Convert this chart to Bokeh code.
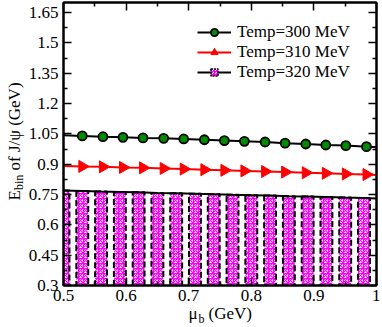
import math
from bokeh.plotting import figure
from bokeh.models import (Range1d, LinearAxis, FixedTicker, CustomJSTickFormatter,
                          Legend, LegendItem, ColumnDataSource, CDSView, IndexFilter)
from bokeh.core.properties import value
from bokeh.embed import file_html
from bokeh.resources import INLINE

# ---------------- data ----------------
mu_300 = [0.5, 0.53, 0.563, 0.595, 0.627, 0.66, 0.692, 0.725, 0.757, 0.789,
          0.822, 0.854, 0.887, 0.919, 0.951, 0.984, 1.0]
e_300 = [1.043, 1.040, 1.036, 1.033, 1.030, 1.028, 1.025, 1.021, 1.017, 1.013,
         1.010, 1.004, 1.000, 0.995, 0.992, 0.987, 0.985]
mu_310 = [0.5, 0.53, 0.563, 0.595, 0.627, 0.66, 0.692, 0.725, 0.757, 0.789,
          0.822, 0.854, 0.887, 0.919, 0.951, 0.984, 1.0]
e_310 = [0.891, 0.889, 0.887, 0.884, 0.882, 0.879, 0.876, 0.873, 0.870, 0.867,
         0.864, 0.861, 0.858, 0.855, 0.852, 0.849, 0.847]
mu_320 = [0.50, 0.53, 0.56, 0.59, 0.62, 0.65, 0.68, 0.71, 0.74, 0.77,
          0.80, 0.83, 0.86, 0.89, 0.92, 0.95, 0.98]
e_320 = [0.770, 0.768, 0.765, 0.763, 0.761, 0.758, 0.756, 0.754, 0.752, 0.749,
         0.747, 0.745, 0.742, 0.740, 0.738, 0.735, 0.733]
mu_320_end = [1.0]
e_320_end = [0.731]

labels = ["Temp=300 MeV", "Temp=310 MeV", "Temp=320 MeV"]

x_major = [0.5, 0.6, 0.7, 0.8, 0.9, 1.0]
x_minor = [0.55, 0.65, 0.75, 0.85, 0.95]
y_major = [0.3, 0.45, 0.6, 0.75, 0.9, 1.05, 1.2, 1.35, 1.5, 1.65]
y_minor = [0.375, 0.525, 0.675, 0.825, 0.975, 1.125, 1.275, 1.425, 1.575]

FONT = "Liberation Serif, Times New Roman, serif"
W, H = 380, 326

p = figure(width=W, height=H, output_backend="svg", toolbar_location=None,
           x_range=Range1d(0.5, 1.0), y_range=Range1d(0.3, 1.7),
           x_axis_type=None, y_axis_type=None,
           min_border_left=63, min_border_right=4, min_border_top=2,
           min_border_bottom=41)
p.xgrid.visible = False
p.ygrid.visible = False
p.outline_line_color = "black"
p.outline_line_width = 2
p.background_fill_color = "white"
p.border_fill_color = "white"

fmt = CustomJSTickFormatter(code="return String(Number(tick.toFixed(3)));")
blank = CustomJSTickFormatter(code="return '';")


def style_axis(ax, show):
    ax.axis_line_color = "black"
    ax.axis_line_width = 2
    ax.major_tick_in = 8
    ax.major_tick_out = 0
    ax.minor_tick_in = 4
    ax.minor_tick_out = 0
    ax.major_tick_line_color = "black"
    ax.minor_tick_line_color = "black"
    ax.major_tick_line_width = 1.5
    ax.minor_tick_line_width = 1.5
    if show:
        ax.formatter = fmt
        ax.major_label_text_font = FONT
        ax.major_label_text_font_size = "17px"
        ax.major_label_text_color = "black"
    else:
        ax.formatter = blank
        ax.major_label_text_font_size = "0px"
        ax.major_label_standoff = 0


xt = FixedTicker(ticks=x_major, minor_ticks=x_minor)
yt = FixedTicker(ticks=y_major, minor_ticks=y_minor)

bottom = LinearAxis(ticker=xt)
style_axis(bottom, True)
bottom.major_label_standoff = 4
left = LinearAxis(ticker=yt)
style_axis(left, True)
left.major_label_standoff = 5
top = LinearAxis(ticker=xt)
style_axis(top, False)
right = LinearAxis(ticker=yt)
style_axis(right, False)
p.add_layout(bottom, "below")
p.add_layout(left, "left")
p.add_layout(top, "above")
p.add_layout(right, "right")

# ---------------- glyphs ----------------
src320 = ColumnDataSource(data=dict(x=mu_320, y=e_320))
bars = p.vbar(x="x", top="y", bottom=0, width=0.019, source=src320,
              fill_color=None, line_color="black", line_width=2, line_dash="6 3",
              hatch_pattern="criss_cross", hatch_color="magenta",
              hatch_scale=5, hatch_weight=1.2)
l320 = p.line(x=mu_320 + mu_320_end, y=e_320 + e_320_end, line_color="black", line_width=2)
# legend proxy: zero-size marker (legend computes its own marker size)
d320 = p.scatter(x="x", y="y", source=src320, view=CDSView(filter=IndexFilter(indices=[0])),
                 marker="square", size=0, fill_color="white",
                 line_color="black", line_width=1.5, line_dash="2 1",
                 hatch_pattern="criss_cross", hatch_color="magenta",
                 hatch_scale=3, hatch_weight=1)

l300 = p.line(x=mu_300, y=e_300, line_color="black", line_width=2)
s300 = p.scatter(x=mu_300[1:-1], y=e_300[1:-1], marker="circle", size=9,
                 fill_color="#008c00", line_color="black", line_width=1.8)

l310 = p.line(x=mu_310, y=e_310, line_color="red", line_width=2)
n_tri = len(mu_310) - 2
s310 = p.scatter(x=mu_310[1:-1], y=e_310[1:-1], marker="triangle", size=12,
                 angle=[-math.pi / 2] * n_tri, fill_color="red", line_color="red",
                 line_width=1)

legend = Legend(items=[LegendItem(label=labels[0], renderers=[l300, s300]),
                       LegendItem(label=labels[1], renderers=[l310, s310]),
                       LegendItem(label=labels[2], renderers=[l320, d320])],
                location=(134, 203))
legend.background_fill_alpha = 0
legend.border_line_alpha = 0
legend.padding = 0
legend.margin = 0
legend.spacing = 0
legend.label_text_font = FONT
legend.label_text_font_size = "17px"
legend.label_text_color = "black"
legend.glyph_width = 34
legend.glyph_height = 18
legend.label_height = 18
legend.label_standoff = 6
p.add_layout(legend)

# ---------------- axis titles: transparent overlay figure in page pixels ----------------
ov = figure(width=W, height=H, output_backend="svg", toolbar_location=None,
            x_range=Range1d(0, W), y_range=Range1d(H, 0),
            x_axis_type=None, y_axis_type=None, min_border=0)
ov.xgrid.visible = False
ov.ygrid.visible = False
ov.outline_line_color = None
ov.background_fill_alpha = 0
ov.border_fill_alpha = 0
ov.styles = {"position": "absolute", "left": "0px", "top": "0px"}

title_parts = [
    # (x, y, text, size, angle)
    (14, 200, "E", "17px", math.pi / 2),
    (18, 189.6, "bin", "12px", math.pi / 2),
    (14, 170, "of J/\u03c8 (GeV)", "17px", math.pi / 2),
    (188, 313, "\u03bc", "17px", 0.0),
    (198, 318, "b", "12px", 0.0),
    (208, 313, "(GeV)", "17px", 0.0),
]
for tx, ty, tt, ts, ta in title_parts:
    ov.text(x=[tx], y=[ty], text=[tt], angle=ta, text_font=value(FONT),
            text_font_size=ts, text_color="black", text_baseline="alphabetic",
            text_align="left")

open("out.html", "w").write(file_html([p, ov], INLINE))
